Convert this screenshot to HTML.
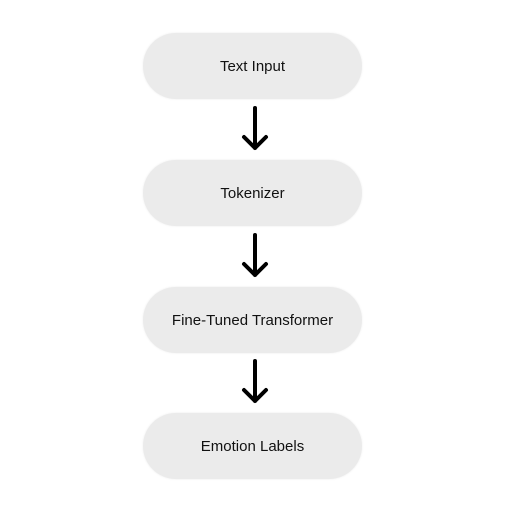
<!DOCTYPE html>
<html><head><style>
body{margin:0;background:#fff;width:512px;height:512px;position:relative;font-family:"Liberation Sans",sans-serif;}
.b{position:absolute;left:143px;width:219px;height:66px;border-radius:33px;background:#ebebeb;box-shadow:0 0 2px rgba(0,0,0,0.08);display:flex;align-items:center;justify-content:center;font-size:15px;color:#111;}
svg{position:absolute;left:0;top:0}
</style></head><body>
<div class="b" style="top:33px">Text Input</div>
<div class="b" style="top:160px">Tokenizer</div>
<div class="b" style="top:287px">Fine-Tuned Transformer</div>
<div class="b" style="top:413px">Emotion Labels</div>
<svg width="512" height="512" fill="none" stroke="#000" stroke-width="4" stroke-linecap="round" stroke-linejoin="round">
<path d="M255 108V148M244 137L255 148L266 137"/>
<path d="M255 235V275M244 264L255 275L266 264"/>
<path d="M255 361V401M244 390L255 401L266 390"/>
</svg>
</body></html>
